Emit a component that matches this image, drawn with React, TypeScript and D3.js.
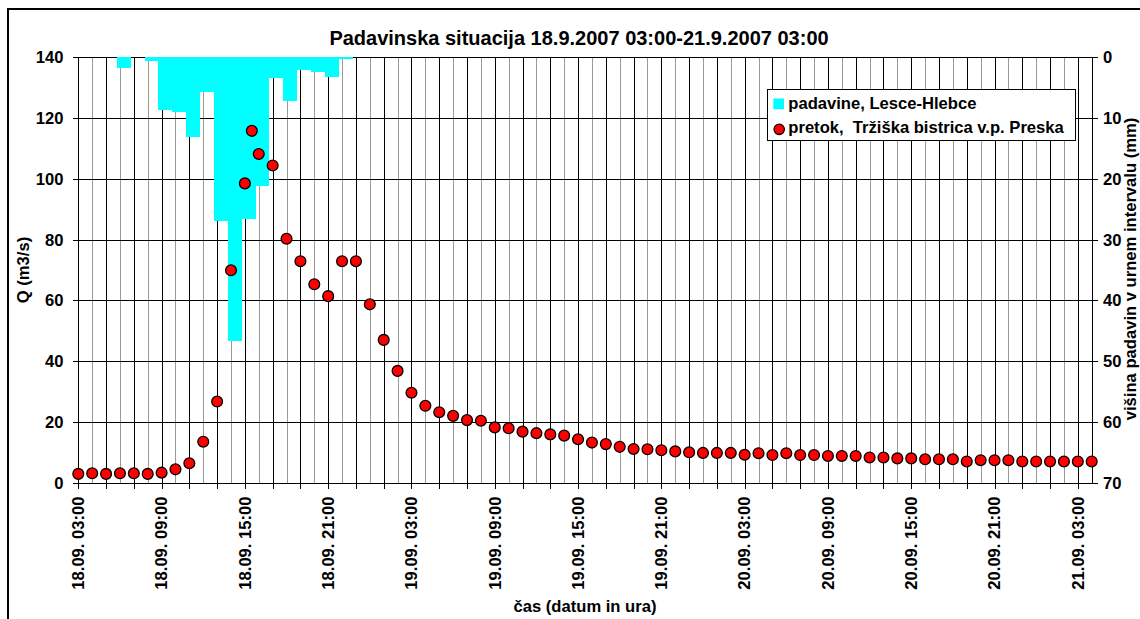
import React from "react";
import * as d3 from "d3";

// ---- data ----
const START = new Date(2007, 8, 18, 3, 0, 0);
const END_HOUR = 73;

// hourly discharge Q (m3/s), hour 0 = 18.09. 03:00
const flowHourly = [
  2.9, 3.1, 2.9, 3.1, 3.1, 2.9, 3.3, 4.4, 6.4, 13.5,
  26.7, 69.9, 98.5, 108.2, 104.4, 80.3, 72.9, 65.3, 61.4, 72.9,
  72.9, 58.7, 47.0, 36.8, 29.6, 25.3, 23.2, 22.0, 20.6, 20.4,
  18.2, 17.9, 16.8, 16.3, 15.9, 15.5, 14.3, 13.2, 12.7, 11.8,
  11.1, 11.0, 10.7, 10.3, 10.0, 9.8, 9.8, 9.8, 9.2, 9.7,
  9.1, 9.7, 9.1, 9.1, 8.8, 8.8, 8.8, 8.3, 8.3, 8.0,
  8.0, 7.7, 7.7, 7.7, 7.0, 7.4, 7.4, 7.4, 7.0, 7.0,
  7.0, 7.0, 7.0, 7.0,
];
// additional non-hourly observation (hour offset, Q)
const flowExtraHours = [12.5];
const flowExtraValues = [115.8];

// hourly precipitation (mm), hour 0 = 18.09. 03:00
const rainHourly = [
  0, 0, 0, 1.7, 0, 0.55, 8.6, 8.95, 13.05, 5.65,
  26.9, 46.7, 26.6, 21.1, 3.4, 7.15, 2.1, 2.4, 3.2, 0.3,
];

const qTicks = [0, 20, 40, 60, 80, 100, 120, 140];
const pTicks = [0, 10, 20, 30, 40, 50, 60, 70];

const TITLE = "Padavinska situacija 18.9.2007 03:00-21.9.2007 03:00";
const X_TITLE = "čas (datum in ura)";
const Y_TITLE = "Q (m3/s)";
const Y2_TITLE = "višina padavin v urnem intervalu (mm)";
const LEGEND_RAIN = "padavine, Lesce-Hlebce";
const LEGEND_FLOW = "pretok,  Tržiška bistrica v.p. Preska";

// ---- layout ----
const W = 1140;
const H = 619;
const L = 78.3;
const R = 1091.7;
const T = 57.3;
const B = 482.7;
const FONT = "'Liberation Sans', Arial, Helvetica, sans-serif";
const FS = 16.6;
const BAR_SHIFT = -0.23; // hours

const at = (h: number) => new Date(START.getTime() + h * 3600 * 1000);

export default function App() {
  const x = d3.scaleTime().domain([at(0), at(END_HOUR)]).range([L, R]);
  const yQ = d3.scaleLinear().domain([0, 140]).range([B, T]);
  const yP = d3.scaleLinear().domain([0, 70]).range([T, B]);
  const fmt = d3.timeFormat("%d.%m. %H:%M");

  const gridHours = d3.range(1, END_HOUR);
  const tickHours = d3.range(0, END_HOUR, 2);
  const labelHours = d3.range(0, END_HOUR, 6);

  const flowPts = [
    ...flowHourly.map((q, i) => ({ t: at(i), q })),
    ...flowExtraHours.map((h, i) => ({ t: at(h), q: flowExtraValues[i] })),
  ];

  const cx = (v: number) => Math.round(v) + 0.5;

  return (
    <svg
      width={W}
      height={H}
      style={{ position: "absolute", left: 0, top: 0, background: "#fff" }}
      fontFamily={FONT}
      fontWeight="bold"
    >
      <rect x={0} y={0} width={W} height={H} fill="#fff" />
      {/* outer chart border */}
      <rect x={8} y={9} width={1300} height={800} fill="none" stroke="#000" strokeWidth={2} />

      {/* title */}
      <text x={579} y={45} textAnchor="middle" fontSize={20} fill="#000">
        {TITLE}
      </text>

      {/* vertical grid */}
      <g shapeRendering="crispEdges">
        {gridHours.map((h) => (
          <line
            key={"vg" + h}
            x1={cx(x(at(h)))}
            x2={cx(x(at(h)))}
            y1={T}
            y2={B}
            stroke={h % 2 === 0 ? "#000" : "#9a9a9a"}
            strokeWidth={1}
          />
        ))}
        {qTicks.slice(1).map((q) => (
          <line
            key={"hg" + q}
            x1={L}
            x2={R}
            y1={cx(yQ(q))}
            y2={cx(yQ(q))}
            stroke="#000"
            strokeWidth={1}
          />
        ))}
      </g>

      {/* precipitation bars */}
      <g shapeRendering="crispEdges">
        {rainHourly.map((p, i) =>
          p > 0 ? (
            <rect
              key={"bar" + i}
              x={x(at(i + BAR_SHIFT))}
              y={yP(0)}
              width={x(at(i + BAR_SHIFT + 1)) - x(at(i + BAR_SHIFT))}
              height={yP(p) - yP(0)}
              fill="#00FFFF"
            />
          ) : null
        )}
      </g>

      {/* axes */}
      <g shapeRendering="crispEdges" stroke="#000" strokeWidth={1}>
        <line x1={cx(L)} x2={cx(L)} y1={T} y2={B + 0.5} />
        <line x1={cx(R)} x2={cx(R)} y1={T} y2={B + 0.5} />
        <line x1={L} x2={R + 1} y1={cx(B)} y2={cx(B)} strokeWidth={1.5} />
        {qTicks.map((q) => (
          <line key={"lt" + q} x1={L - 5} x2={L} y1={cx(yQ(q))} y2={cx(yQ(q))} />
        ))}
        {pTicks.map((p) => (
          <line key={"rt" + p} x1={R} x2={R + 6} y1={cx(yP(p))} y2={cx(yP(p))} />
        ))}
        {tickHours.map((h) => (
          <line key={"xt" + h} x1={cx(x(at(h)))} x2={cx(x(at(h)))} y1={B} y2={B + 6} />
        ))}
      </g>

      {/* left tick labels */}
      {qTicks.map((q) => (
        <text key={"ll" + q} x={63.5} y={yQ(q) + 6} textAnchor="end" fontSize={FS} fill="#000">
          {q}
        </text>
      ))}
      {/* right tick labels */}
      {pTicks.map((p) => (
        <text key={"rl" + p} x={1103} y={yP(p) + 6} textAnchor="start" fontSize={FS} fill="#000">
          {p}
        </text>
      ))}
      {/* x labels */}
      {labelHours.map((h) => (
        <text
          key={"xl" + h}
          transform={`translate(${x(at(h))},496.5) rotate(-90)`}
          dy="0.35em"
          textAnchor="end"
          fontSize={FS}
          fill="#000"
        >
          {fmt(at(h))}
        </text>
      ))}

      {/* axis titles */}
      <text x={585} y={612} textAnchor="middle" fontSize={FS} fill="#000">
        {X_TITLE}
      </text>
      <text transform="translate(28.6,270) rotate(-90)" textAnchor="middle" fontSize={FS} fill="#000">
        {Y_TITLE}
      </text>
      <text transform="translate(1135.5,269) rotate(-90)" textAnchor="middle" fontSize={FS} fill="#000">
        {Y2_TITLE}
      </text>

      {/* discharge markers */}
      {flowPts.map((d, i) => (
        <circle
          key={"pt" + i}
          cx={x(d.t)}
          cy={yQ(d.q)}
          r={5.4}
          fill="#FF0000"
          stroke="#000"
          strokeWidth={1.3}
        />
      ))}

      {/* legend */}
      <g>
        <rect x={767.5} y={89.5} width={307.5} height={50.5} fill="#fff" stroke="#000" strokeWidth={1} shapeRendering="crispEdges" />
        <rect x={773.3} y={98.5} width={10.7} height={10.7} fill="#00FFFF" />
        <text x={788.3} y={108.6} fontSize={FS} fill="#000">
          {LEGEND_RAIN}
        </text>
        <circle cx={779.2} cy={129.3} r={5.2} fill="#FF0000" stroke="#000" strokeWidth={1.3} />
        <text x={788.3} y={133.4} fontSize={FS} fill="#000" style={{ whiteSpace: "pre" }}>
          {LEGEND_FLOW}
        </text>
      </g>
    </svg>
  );
}
